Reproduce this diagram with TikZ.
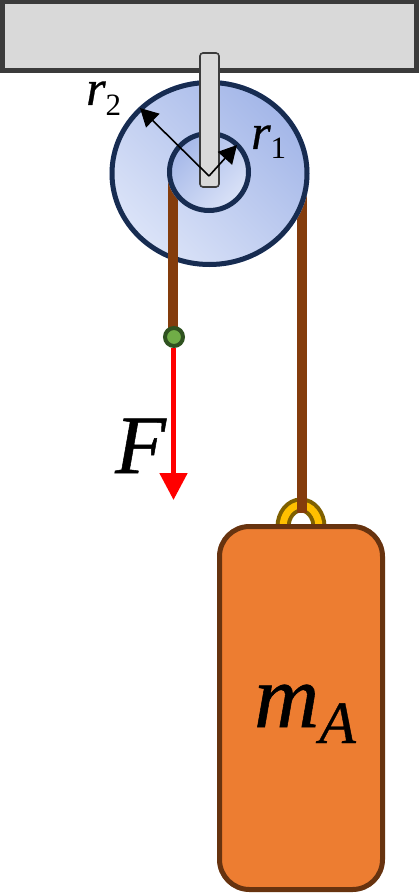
\documentclass[tikz,border=0pt]{standalone}
\usepackage{fontspec}
\newfontface\pulleylabel{Liberation Serif Italic}[FakeBold=0.6]
\newfontface\pulleydigit{Liberation Serif}
\usetikzlibrary{arrows.meta}
\definecolor{ceilfill}{HTML}{D9D9D9}
\definecolor{ceilline}{HTML}{3B3B3B}
\definecolor{navy}{HTML}{172C51}
\definecolor{rope}{HTML}{843C0C}
\definecolor{blockfill}{HTML}{ED7D31}
\definecolor{blockline}{HTML}{67330F}
\definecolor{ringfill}{HTML}{FFC000}
\definecolor{ringline}{HTML}{7F6000}
\definecolor{ballfill}{HTML}{70AD47}
\definecolor{ballline}{HTML}{2F5220}
\definecolor{discl}{HTML}{DCE4F8}
\definecolor{discd}{HTML}{A3B6E8}
\tikzset{
  rope/.style={draw=rope,line width=10pt},
  radius arrow/.style={draw=black,line width=1.6pt,-{Triangle[length=18pt,width=19pt]}},
  mathlabel/.style={inner sep=0pt,text=black,anchor=base west},
}
\begin{document}
\begin{tikzpicture}[x=1pt,y=-1pt]
\useasboundingbox (0,0) rectangle (419,893);
\fill[white] (0,0) rectangle (419,893);
% ceiling
\draw[fill=ceilfill,draw=ceilline,line width=5pt] (2.5,2) rectangle (416.5,70.5);
% right rope
\coordinate (rtop) at (302,190);
\coordinate (rbot) at (302,513);
% ring
\draw[ringline,line width=15pt] (301,527) ellipse (18 and 22);
\draw[ringfill,line width=7pt] (301,527) ellipse (18 and 22);
\draw[rope] (rtop) -- (rbot);
% block
\node[draw=blockline,fill=blockfill,line width=5pt,rounded corners=30pt,minimum width=163pt,minimum height=363pt,inner sep=0pt] (block) at (301,708) {};
% pulley
\shade[shading=axis,left color=discl,right color=discd,shading angle=135] (209.5,173.5) ellipse (100 and 93.5);
\draw[navy,line width=5pt] (209.5,173.5) ellipse (97.5 and 91);
\coordinate (ltop) at (173,180);
\coordinate (ball) at (174,337);
\draw[rope] (ltop) -- (173,332);
\shade[shading=axis,left color=discd,right color=discl,shading angle=45] (209,172) ellipse (42 and 41);
\draw[navy,line width=5pt] (209,172) ellipse (39.5 and 38.5);
% hanger
\draw[fill=ceilfill,draw=ceilline,line width=1.6pt,rounded corners=3pt] (200,53) rectangle (219,187);
% radii
\coordinate (c) at (209,176);
\coordinate (r2tip) at (140,108);
\coordinate (r1tip) at (237,145);
\draw[radius arrow] (c) -- (r2tip);
\draw[radius arrow] (c) -- (r1tip);
% force
\node[circle,draw=ballline,fill=ballfill,line width=4pt,minimum size=18pt,inner sep=0pt] (b) at (ball) {};
\coordinate (ftip) at (173.5,500);
\draw[draw=red,line width=5pt,-{Triangle[length=27pt,width=27pt]}] (173.5,348) -- (ftip);
% labels
\node[mathlabel] (lr2) at (86,105) {\fontsize{50}{50}\pulleylabel r\raisebox{-11pt}{\fontsize{31}{31}\pulleydigit 2}};
\node[mathlabel] (lr1) at (251,149) {\fontsize{50}{50}\pulleylabel r\raisebox{-10pt}{\fontsize{31}{31}\pulleydigit 1}};
\node[mathlabel] (lF) at (115,473) {\fontsize{83}{83}\pulleylabel F};
\node[mathlabel] (lm) at (254,727) {\fontsize{90}{90}\pulleylabel m\raisebox{-16pt}{\fontsize{60}{60}\pulleylabel A}};
\end{tikzpicture}
\end{document}
